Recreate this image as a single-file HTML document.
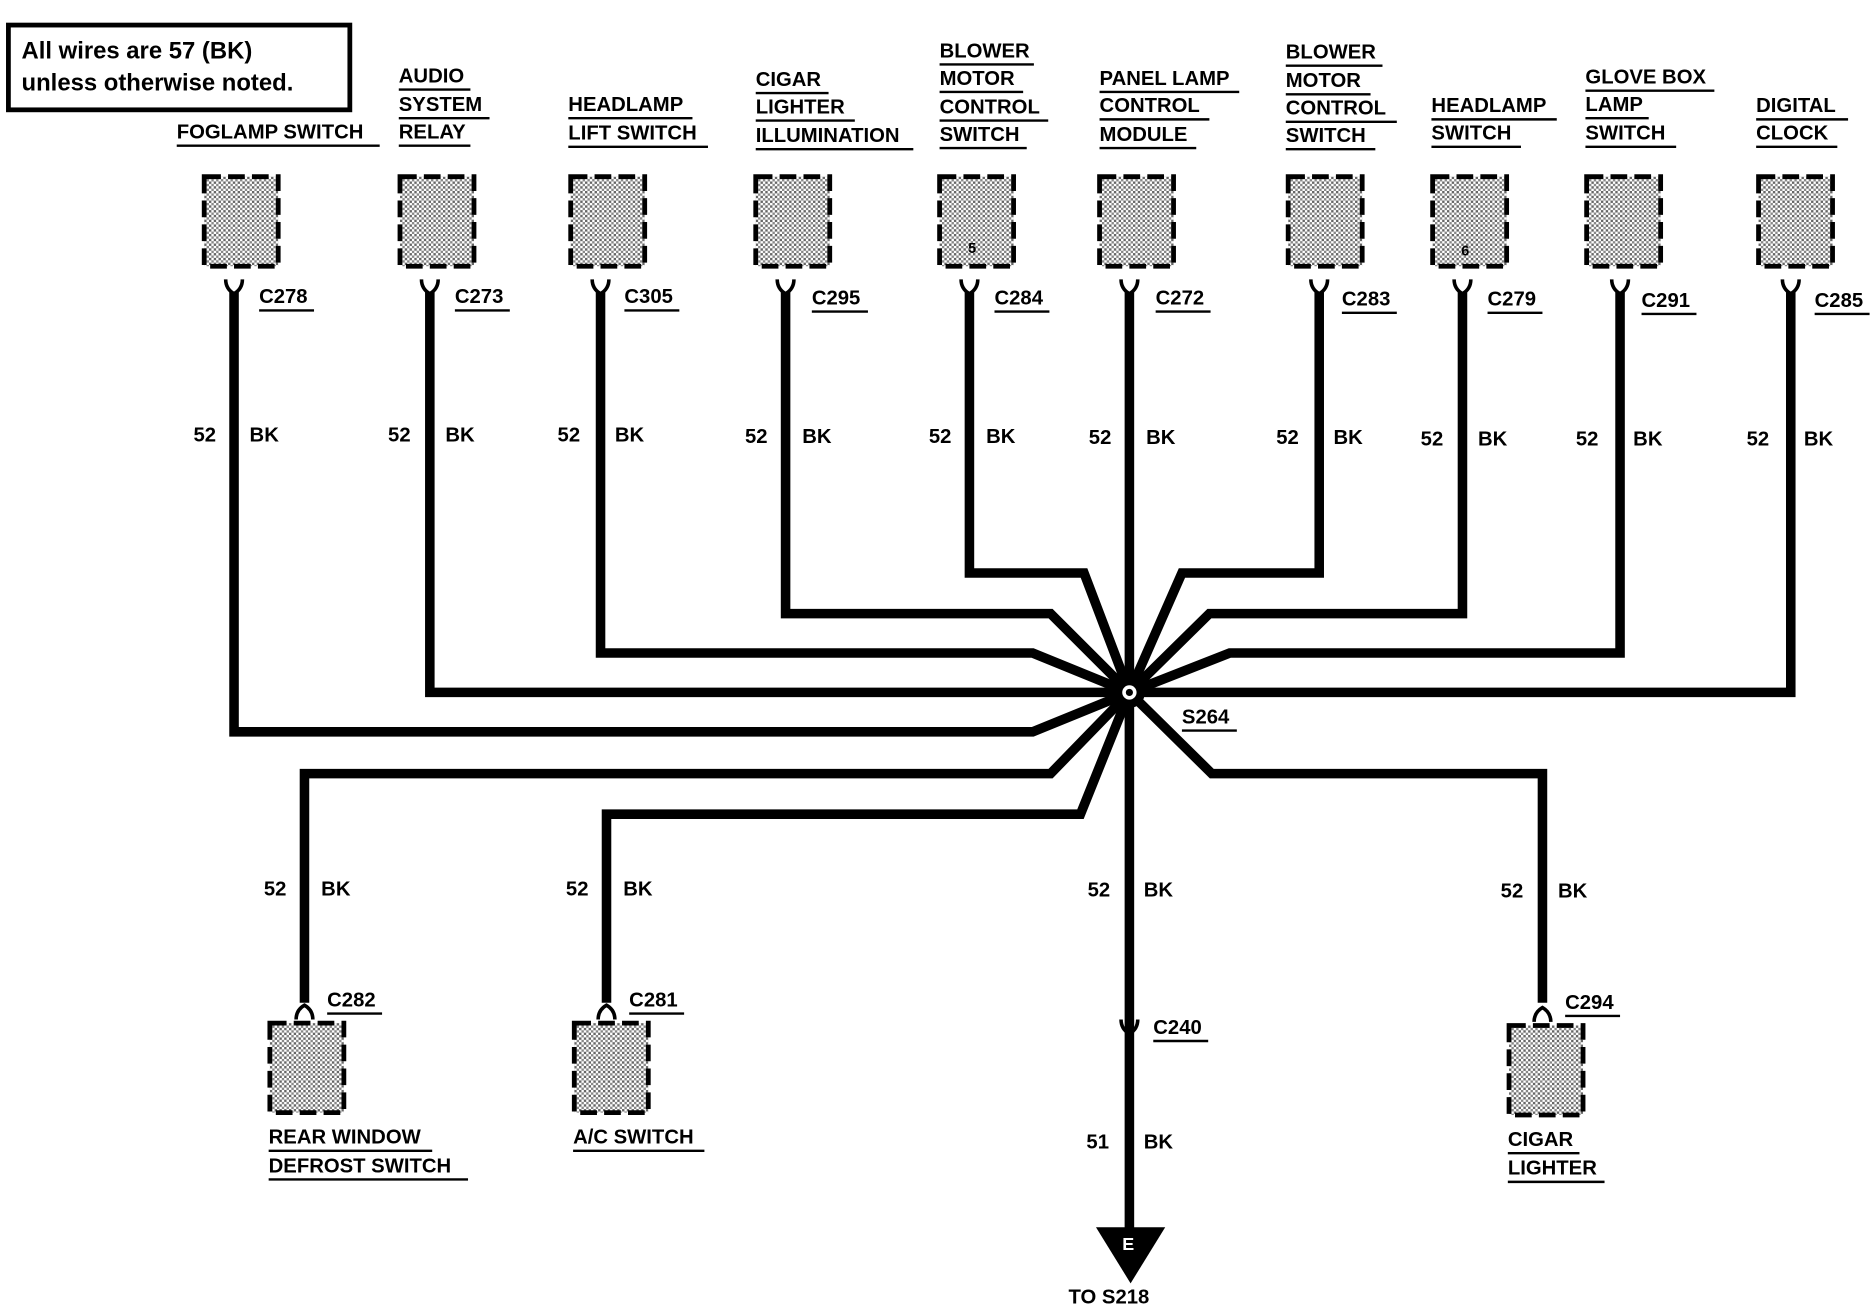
<!DOCTYPE html>
<html><head><meta charset="utf-8"><style>
html,body{margin:0;padding:0;background:#fff;}
svg{display:block;}
text{font-family:"Liberation Sans",Arial,sans-serif;font-weight:bold;font-size:17px;fill:#000;}
</style></head><body>
<svg width="1872" height="1312" viewBox="0 0 1568 1099" xmlns="http://www.w3.org/2000/svg">
<defs>
<pattern id="dots" width="4" height="4" patternUnits="userSpaceOnUse">
<rect width="4" height="4" fill="#fff"/><rect x="0" y="0" width="2" height="2" fill="#666"/><rect x="2" y="2" width="2" height="2" fill="#888"/>
</pattern>
<g id="box"><rect x="0" y="0" width="62" height="75" fill="url(#dots)" stroke="#000" stroke-width="4" stroke-dasharray="14,6"/></g>
<g id="ctop"><path d="M-7,-8 Q-7,0 0,4 Q7,0 7,-8" fill="none" stroke="#000" stroke-width="3"/></g>
</defs>
<rect x="7" y="21" width="286" height="71" fill="#fff" stroke="#000" stroke-width="4"/>
<text x="18" y="49" style="font-size:20px">All wires are 57 (BK)</text>
<text x="18" y="76" style="font-size:20px">unless otherwise noted.</text>

<g fill="none" stroke="#000" stroke-width="8" stroke-linejoin="miter">
<polyline points="196,245 196,613 865,613 946,580"/>
<polyline points="360,245 360,580 946,580"/>
<polyline points="503,245 503,547 865,547 946,580"/>
<polyline points="658,245 658,514 880,514 946,580"/>
<polyline points="812,245 812,480 908,480 946,580"/>
<polyline points="946,245 946,1030"/>
<polyline points="1105,245 1105,480 990,480 946,580"/>
<polyline points="1225,245 1225,514 1013,514 946,580"/>
<polyline points="1357,245 1357,547 1030,547 946,580"/>
<polyline points="1500,245 1500,580 946,580"/>
<polyline points="255,840 255,648 880,648 946,580"/>
<polyline points="508,840 508,682 905,682 946,580"/>
<polyline points="1292,840 1292,648 1015,648 946,580"/>
</g>
<circle cx="946" cy="580" r="13" fill="#000"/>
<circle cx="946" cy="580" r="6" fill="#fff"/>
<circle cx="946" cy="580" r="3" fill="#000"/>
<text x="990" y="606">S264</text>
<line x1="990" y1="612" x2="1036" y2="612" stroke="#000" stroke-width="2"/>
<polygon points="918,1028 976,1028 947,1075" fill="#000"/>
<text x="940" y="1047" style="fill:#fff;font-size:15px">E</text>
<text x="895" y="1092">TO S218</text>

<!-- top boxes -->
<g>
<use href="#box" x="171" y="148"/><use href="#box" x="335" y="148"/><use href="#box" x="478" y="148"/>
<use href="#box" x="633" y="148"/><use href="#box" x="787" y="148"/><use href="#box" x="921" y="148"/>
<use href="#box" x="1079" y="148"/><use href="#box" x="1200" y="148"/><use href="#box" x="1329" y="148"/>
<use href="#box" x="1473" y="148"/>
<use href="#box" x="226" y="857"/><use href="#box" x="481" y="857"/><use href="#box" x="1264" y="859"/>
</g>
<text x="811" y="212" style="font-size:12px">5</text>
<text x="1224" y="214" style="font-size:12px">6</text>
<g>
<use href="#ctop" x="196" y="242"/><use href="#ctop" x="360" y="242"/><use href="#ctop" x="503" y="242"/>
<use href="#ctop" x="658" y="242"/><use href="#ctop" x="812" y="242"/><use href="#ctop" x="946" y="242"/>
<use href="#ctop" x="1105" y="242"/><use href="#ctop" x="1225" y="242"/><use href="#ctop" x="1357" y="242"/>
<use href="#ctop" x="1500" y="242"/>
<use href="#ctop" x="946" y="862"/>
<use href="#ctop" x="255" y="846" transform="rotate(180 255 846)"/>
<use href="#ctop" x="508" y="846" transform="rotate(180 508 846)"/>
<use href="#ctop" x="1292" y="848" transform="rotate(180 1292 848)"/>
</g>

<!-- connector labels -->
<g>
<text x="217" y="254">C278</text><text x="381" y="254">C273</text><text x="523" y="254">C305</text>
<text x="680" y="255">C295</text><text x="833" y="255">C284</text><text x="968" y="255">C272</text>
<text x="1124" y="256">C283</text><text x="1246" y="256">C279</text><text x="1375" y="257">C291</text>
<text x="1520" y="257">C285</text>
<text x="274" y="843">C282</text><text x="527" y="843">C281</text><text x="966" y="866">C240</text><text x="1311" y="845">C294</text>
</g>
<g stroke="#000" stroke-width="2">
<line x1="217" y1="260" x2="263" y2="260"/><line x1="381" y1="260" x2="427" y2="260"/><line x1="523" y1="260" x2="569" y2="260"/>
<line x1="680" y1="261" x2="727" y2="261"/><line x1="833" y1="261" x2="879" y2="261"/><line x1="968" y1="261" x2="1014" y2="261"/>
<line x1="1124" y1="262" x2="1170" y2="262"/><line x1="1246" y1="262" x2="1292" y2="262"/><line x1="1375" y1="263" x2="1421" y2="263"/>
<line x1="1520" y1="263" x2="1566" y2="263"/>
<line x1="274" y1="849" x2="320" y2="849"/><line x1="527" y1="849" x2="573" y2="849"/><line x1="966" y1="872" x2="1012" y2="872"/><line x1="1311" y1="851" x2="1357" y2="851"/>
</g>

<!-- wire labels -->
<g>
<text x="162" y="370">52</text><text x="209" y="370">BK</text>
<text x="325" y="370">52</text><text x="373" y="370">BK</text>
<text x="467" y="370">52</text><text x="515" y="370">BK</text>
<text x="624" y="371">52</text><text x="672" y="371">BK</text>
<text x="778" y="371">52</text><text x="826" y="371">BK</text>
<text x="912" y="372">52</text><text x="960" y="372">BK</text>
<text x="1069" y="372">52</text><text x="1117" y="372">BK</text>
<text x="1190" y="373">52</text><text x="1238" y="373">BK</text>
<text x="1320" y="373">52</text><text x="1368" y="373">BK</text>
<text x="1463" y="373">52</text><text x="1511" y="373">BK</text>
<text x="221" y="750">52</text><text x="269" y="750">BK</text>
<text x="474" y="750">52</text><text x="522" y="750">BK</text>
<text x="911" y="751">52</text><text x="958" y="751">BK</text>
<text x="1257" y="752">52</text><text x="1305" y="752">BK</text>
<text x="910" y="962">51</text><text x="958" y="962">BK</text>
</g>

<!-- component labels -->
<g>
<text x="148" y="116">FOGLAMP SWITCH</text>
<text x="334" y="69">AUDIO</text><text x="334" y="93">SYSTEM</text><text x="334" y="116">RELAY</text>
<text x="476" y="93">HEADLAMP</text><text x="476" y="117">LIFT SWITCH</text>
<text x="633" y="72">CIGAR</text><text x="633" y="95">LIGHTER</text><text x="633" y="119">ILLUMINATION</text>
<text x="787" y="48">BLOWER</text><text x="787" y="71">MOTOR</text><text x="787" y="95">CONTROL</text><text x="787" y="118">SWITCH</text>
<text x="921" y="71">PANEL LAMP</text><text x="921" y="94">CONTROL</text><text x="921" y="118">MODULE</text>
<text x="1077" y="49">BLOWER</text><text x="1077" y="73">MOTOR</text><text x="1077" y="96">CONTROL</text><text x="1077" y="119">SWITCH</text>
<text x="1199" y="94">HEADLAMP</text><text x="1199" y="117">SWITCH</text>
<text x="1328" y="70">GLOVE BOX</text><text x="1328" y="93">LAMP</text><text x="1328" y="117">SWITCH</text>
<text x="1471" y="94">DIGITAL</text><text x="1471" y="117">CLOCK</text>
<text x="225" y="958">REAR WINDOW</text><text x="225" y="982">DEFROST SWITCH</text>
<text x="480" y="958">A/C SWITCH</text>
<text x="1263" y="960">CIGAR</text><text x="1263" y="984">LIGHTER</text>
</g>
<g stroke="#000" stroke-width="2">
<line x1="148" y1="122" x2="318" y2="122"/>
<line x1="334" y1="75" x2="394" y2="75"/><line x1="334" y1="99" x2="410" y2="99"/><line x1="334" y1="122" x2="394" y2="122"/>
<line x1="476" y1="99" x2="580" y2="99"/><line x1="476" y1="123" x2="593" y2="123"/>
<line x1="633" y1="78" x2="694" y2="78"/><line x1="633" y1="101" x2="716" y2="101"/><line x1="633" y1="125" x2="765" y2="125"/>
<line x1="787" y1="54" x2="866" y2="54"/><line x1="787" y1="77" x2="857" y2="77"/><line x1="787" y1="101" x2="878" y2="101"/><line x1="787" y1="124" x2="860" y2="124"/>
<line x1="921" y1="77" x2="1038" y2="77"/><line x1="921" y1="100" x2="1013" y2="100"/><line x1="921" y1="124" x2="1002" y2="124"/>
<line x1="1077" y1="55" x2="1158" y2="55"/><line x1="1077" y1="79" x2="1148" y2="79"/><line x1="1077" y1="102" x2="1170" y2="102"/><line x1="1077" y1="125" x2="1152" y2="125"/>
<line x1="1199" y1="100" x2="1304" y2="100"/><line x1="1199" y1="123" x2="1274" y2="123"/>
<line x1="1328" y1="76" x2="1436" y2="76"/><line x1="1328" y1="99" x2="1381" y2="99"/><line x1="1328" y1="123" x2="1404" y2="123"/>
<line x1="1471" y1="100" x2="1548" y2="100"/><line x1="1471" y1="123" x2="1539" y2="123"/>
<line x1="225" y1="964" x2="362" y2="964"/><line x1="225" y1="988" x2="392" y2="988"/>
<line x1="480" y1="964" x2="590" y2="964"/>
<line x1="1263" y1="966" x2="1323" y2="966"/><line x1="1263" y1="990" x2="1344" y2="990"/>
</g>
</svg>
</body></html>
